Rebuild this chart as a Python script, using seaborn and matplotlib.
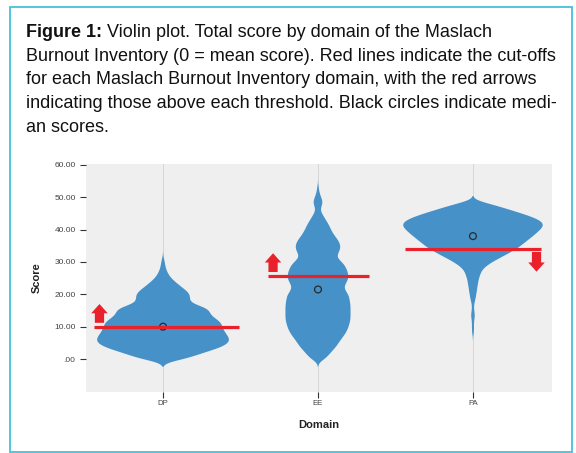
import numpy as np
import pandas as pd
import matplotlib
matplotlib.use("Agg")
import matplotlib.pyplot as plt
from matplotlib.patches import Rectangle
import seaborn as sns

# ---------------- data ----------------
domains = ["DP", "EE", "PA"]
cutoffs = [10.0, 25.7, 34.0]
medians = [10.0, 21.5, 38.0]
arrow_dirs = ["up", "up", "down"]

dp_scores = list(range(0, 32))
dp_counts = [26, 32, 42, 54, 63, 68, 69, 67, 64, 62, 61, 60, 58, 50, 48, 48,
             46, 28, 27, 28, 28, 25, 20, 16, 12, 8, 6, 4, 3, 2, 2, 1]

ee_scores = list(range(0, 54))
ee_counts = [8, 10, 13, 16, 19, 21, 23, 26, 28, 30, 31, 32, 33, 33, 33, 33, 33, 33,
             32, 32, 31, 28, 26, 27, 30, 31, 31, 30, 29, 27, 25, 19, 19, 21, 23,
             23, 22, 20, 17, 15, 13, 12, 10, 8, 6, 4, 2, 3, 5, 5, 3, 2, 1, 1]

pa_scores = list(range(8, 49))
pa_counts = [1, 1, 1, 1, 1, 2, 2, 1, 1, 1, 2, 3, 3, 4, 4, 5, 5, 6, 7,
             8, 10, 14, 19, 25, 31, 37, 43, 47, 51, 55, 59, 63, 66, 70, 70, 66,
             58, 48, 38, 27, 18]

tables = {"DP": (dp_scores, dp_counts), "EE": (ee_scores, ee_counts),
          "PA": (pa_scores, pa_counts)}
frames = []
for d in domains:
    s, c = tables[d]
    frames.append(pd.DataFrame({"Domain": d, "Score": np.repeat(s, c).astype(float)}))
df = pd.concat(frames, ignore_index=True)

# ---------------- style ----------------
FONT = ["Liberation Sans", "DejaVu Sans"]
plt.rcParams["font.family"] = FONT
RED = "#e8212b"
BLUE = "#4591c8"

fig = plt.figure(figsize=(5.76, 4.53), dpi=100)
W, H = 576, 453

# outer frame
fig.patches.append(Rectangle((10 / W, 1 - 452 / H), 562 / W, 445 / H,
                             transform=fig.transFigure, fill=False,
                             edgecolor="#45c0dc", linewidth=1.3))

# caption
x0 = 26 / W
base0 = 37
step = 23.7
lines = [
    " Violin plot. Total score by domain of the Maslach",
    "Burnout Inventory (0 = mean score). Red lines indicate the cut-offs",
    "for each Maslach Burnout Inventory domain, with the red arrows",
    "indicating those above each threshold. Black circles indicate medi-",
    "an scores.",
]
fs = 12.95
tb = fig.text(x0, 1 - base0 / H, "Figure 1:", fontsize=fs, fontweight="bold",
              va="baseline", ha="left", color="#111111")
fig.canvas.draw()
bb = tb.get_window_extent(renderer=fig.canvas.get_renderer())
x_after = bb.x1 / W
fig.text(x_after, 1 - base0 / H, lines[0], fontsize=fs, va="baseline",
         ha="left", color="#111111")
for i, ln in enumerate(lines[1:], start=1):
    fig.text(x0, 1 - (base0 + i * step) / H, ln, fontsize=fs, va="baseline",
             ha="left", color="#111111")

# axes
ax = fig.add_axes([86 / W, 1 - 392 / H, 466 / W, 228 / H])
ax.set_facecolor("#efefef")

BW = 1.0


def const_bw(kde):
    return BW / np.std(kde.dataset, ddof=1)


violin_widths = {"DP": 0.85, "EE": 0.42, "PA": 0.90}
for d in domains:
    sns.violinplot(data=df[df["Domain"] == d], x="Domain", y="Score",
                   order=domains, inner=None, color=BLUE, saturation=1,
                   linewidth=0, width=violin_widths[d], cut=2.4, gridsize=600,
                   bw_method=const_bw, density_norm="width", ax=ax)
for coll in ax.collections:
    coll.set_edgecolor("none")

pos = np.arange(len(domains))
ax.scatter(pos, medians, s=24, facecolors="none", edgecolors="#2a2a2a",
           linewidths=0.9, zorder=6)

line_ext = [(-0.445, 0.49), (-0.32, 0.33), (-0.44, 0.44)]
arrow_x = [-0.41, -0.29, 0.41]
for i, (c, d) in enumerate(zip(cutoffs, arrow_dirs)):
    ax.hlines(c, i + line_ext[i][0], i + line_ext[i][1], color=RED, lw=2.3,
              zorder=7)
    if d == "up":
        tail, tip = c + 1.2, c + 7.0
    else:
        tail, tip = c - 0.9, c - 7.0
    ax.annotate("", xy=(i + arrow_x[i], tip), xytext=(i + arrow_x[i], tail),
                arrowprops=dict(arrowstyle="simple,head_length=0.7,head_width=1.25,tail_width=0.7",
                                color=RED, mutation_scale=9.5, shrinkA=0, shrinkB=0,
                                lw=0), zorder=8)

ax.set_xlim(-0.497, 2.51)
ax.set_ylim(-10.2, 60.3)
yt = [0, 10, 20, 30, 40, 50, 60]
ax.set_yticks(yt)
ax.set_yticklabels([".00" if v == 0 else f"{v:.2f}" for v in yt])
ax.set_xticks(pos)
ax.set_xticklabels(domains)
for sp in ax.spines.values():
    sp.set_visible(False)
ax.set_axisbelow(True)
ax.grid(axis="x", color="#d6d6d6", lw=0.7)
ax.grid(axis="y", visible=False)
ax.tick_params(axis="y", length=4.5, width=0.8, color="#333333", pad=3,
               labelsize=6, labelcolor="#444444")
ax.tick_params(axis="x", length=4, width=0.8, color="#333333", pad=2,
               labelsize=5.6, labelcolor="#444444")
ax.set_xlabel("Domain", fontsize=8, fontweight="bold", color="#222222", labelpad=9)
ax.set_ylabel("Score", fontsize=8, fontweight="bold", color="#222222", labelpad=9)

fig.savefig("out.png", dpi=100)
